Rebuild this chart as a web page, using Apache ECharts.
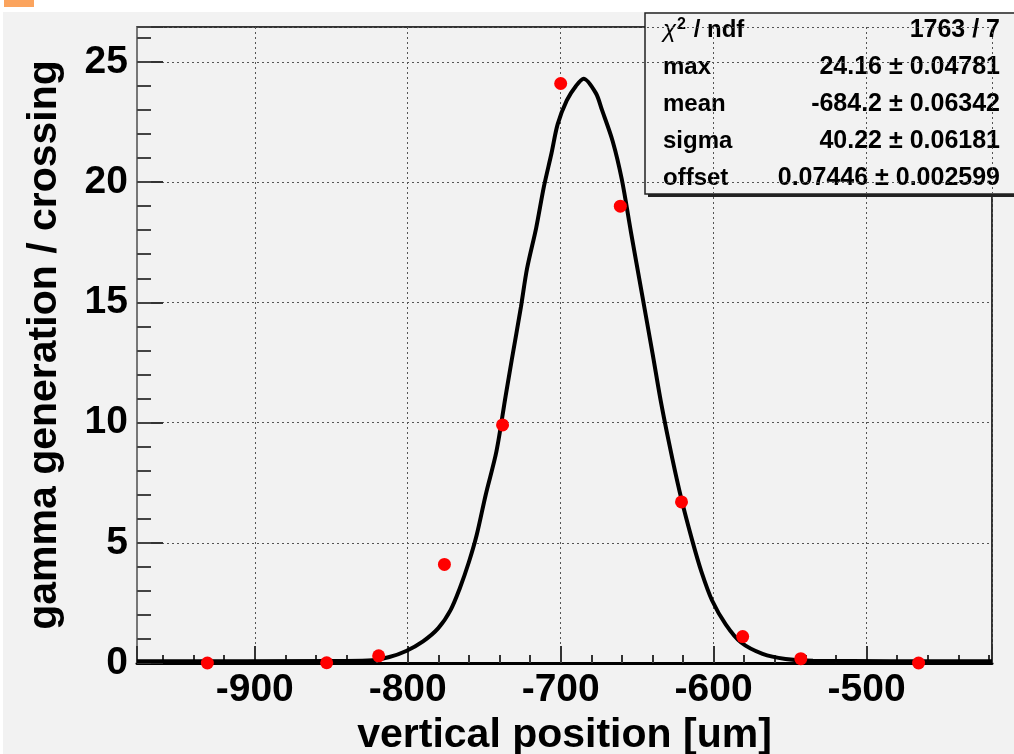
<!DOCTYPE html>
<html lang="en">
<head>
    <meta charset="UTF-8">
    <title>gamma generation / crossing</title>
    <script src="https://cdn.jsdelivr.net/npm/echarts@6/dist/echarts.min.js"></script>
    <style>
        html, body { margin: 0; padding: 0; background: #fff; }
        #chart { width: 1014px; height: 754px; }
    </style>
</head>
<body>
<div id="chart"></div>

<script>
    // measured bins (red points)
    var posX = [-931, -853, -819, -776, -738, -700, -661, -621, -581, -543, -466];
    var genY = [0.0, 0.01, 0.3, 4.1, 9.9, 24.1, 19.0, 6.7, 1.1, 0.18, 0.0];

    // gaussian fit
    var fitX = [-977, -850, -826, -812, -801, -790, -780, -772, -766, -760, -755, -749, -742,
        -736, -732, -726, -722, -716, -711, -706, -702, -696, -690, -685, -677, -673, -666,
        -660, -654, -647, -640, -634, -627, -621, -614, -608, -601, -592, -582, -568, -553, -535, -418];
    var fitY = [0.07, 0.08, 0.1, 0.25, 0.5, 0.9, 1.45, 2.2, 3.1, 4.2, 5.3, 7.0, 8.8,
        11.1, 12.6, 14.8, 16.4, 18.1, 19.8, 21.2, 22.4, 23.4, 24.0, 24.3, 23.7, 23.0, 21.7,
        20.1, 17.9, 15.4, 12.9, 10.7, 8.5, 6.8, 5.1, 3.8, 2.6, 1.6, 0.85, 0.38, 0.17, 0.09, 0.07];

    // fit statistics box
    var statNames = ['{chi|χ}{sup|2}{txt| / ndf}', 'max', 'mean', 'sigma', 'offset'];
    var statValues = ['1763 / 7', '24.16 ± 0.04781', '-684.2 ± 0.06342', '40.22 ± 0.06181', '0.07446 ± 0.002599'];

    var FONT = '"Liberation Sans", Arial, Helvetica, sans-serif';

    var points = posX.map(function (x, i) { return [x, genY[i]]; });
    var curve = fitX.map(function (x, i) { return [x, fitY[i]]; });

    var statBox = [
        {type: 'rect', shape: {x: 648, y: 16, width: 380, height: 181}, style: {fill: '#222'}},
        {type: 'rect', shape: {x: 645, y: 13, width: 380, height: 181},
            style: {fill: '#f2f2f2', stroke: '#222', lineWidth: 1.5}}
    ];
    statNames.forEach(function (name, i) {
        var y = 30 + i * 37;
        statBox.push({type: 'text', style: {text: name, x: 663, y: y, fill: '#000',
                font: 'bold 24px ' + FONT, verticalAlign: 'middle',
                rich: {
                    chi: {fontSize: 24, fontFamily: FONT, fontWeight: 'normal', fontStyle: 'italic', fill: '#000'},
                    sup: {fontSize: 16, fontFamily: FONT, fontWeight: 'bold', verticalAlign: 'top', fill: '#000', padding: [0, 1, 10, 1]},
                    txt: {fontSize: 24, fontFamily: FONT, fontWeight: 'bold', fill: '#000'}
                }}});
        statBox.push({type: 'text', style: {text: statValues[i], x: 1000, y: y, fill: '#000',
                font: 'bold 25px ' + FONT, align: 'right', verticalAlign: 'middle'}});
    });

    var myChart = echarts.init(document.getElementById('chart'));
    var option = {
        backgroundColor: '#f2f2f2',
        animation: false,
        textStyle: {fontFamily: FONT},
        grid: {
            left: 137, top: 27, right: 22, bottom: 91,
            containLabel: false, outerBoundsMode: 'none',
            show: true, borderColor: '#333', borderWidth: 2
        },
        xAxis: [
            {
                type: 'value', min: -977, max: -418,
                minInterval: 100, maxInterval: 100,
                name: 'vertical position [um]',
                nameLocation: 'middle', nameGap: 31,
                nameTextStyle: {fontSize: 41, fontWeight: 'bold', color: '#000'},
                axisLine: {show: true, onZero: false, lineStyle: {color: '#000', width: 3}},
                axisTick: {show: true, inside: true, length: 17, lineStyle: {color: '#333', width: 2}},
                axisLabel: {
                    fontSize: 39, fontWeight: 'bold', color: '#000', margin: 8,
                    formatter: function (v) { return v % 100 === 0 ? String(v) : ''; }
                },
                splitLine: {show: true, lineStyle: {color: '#555', type: [2, 3], width: 1}}
            },
            {
                type: 'value', min: -977, max: -418,
                minInterval: 20, maxInterval: 20,
                axisLine: {show: false},
                axisTick: {show: true, inside: true, length: 8, lineStyle: {color: '#333', width: 2}},
                axisLabel: {show: false},
                splitLine: {show: false},
                position: 'bottom'
            }
        ],
        yAxis: [
            {
                type: 'value', min: 0, max: 26.45, interval: 5,
                position: 'left',
                name: 'gamma generation / crossing',
                nameLocation: 'middle', nameGap: 72,
                nameTextStyle: {fontSize: 41, fontWeight: 'bold', color: '#000'},
                axisLine: {show: true, lineStyle: {color: '#777', width: 2}},
                axisTick: {show: true, inside: true, length: 26, lineStyle: {color: '#333', width: 2}},
                axisLabel: {
                    fontSize: 39, fontWeight: 'bold', color: '#000', margin: 9,
                    formatter: function (v) { return v % 5 === 0 ? String(v) : ''; }
                },
                splitLine: {show: true, lineStyle: {color: '#555', type: [2, 3], width: 1}}
            },
            {
                type: 'value', min: 0, max: 26.45, interval: 1,
                position: 'left',
                axisLine: {show: false},
                axisTick: {show: true, inside: true, length: 14, lineStyle: {color: '#444', width: 2}},
                axisLabel: {show: false},
                splitLine: {show: false}
            }
        ],
        graphic: [
            {type: 'rect', shape: {x: 0, y: 0, width: 1014, height: 12}, style: {fill: '#fff'}, z: 100},
            {type: 'rect', shape: {x: 0, y: 0, width: 3, height: 754}, style: {fill: '#fff'}, z: 100},
            {type: 'rect', shape: {x: 4, y: 0, width: 30, height: 7}, style: {fill: '#fba45e'}, z: 101},
            {type: 'group', z: 100, children: statBox}
        ],
        series: [
            {
                name: 'fit', type: 'line', data: curve,
                xAxisIndex: 0, yAxisIndex: 0,
                showSymbol: false, symbol: 'none', smooth: 0.3,
                lineStyle: {color: '#000', width: 4}, z: 3
            },
            {
                name: 'data', type: 'scatter', data: points,
                xAxisIndex: 0, yAxisIndex: 0,
                symbol: 'circle', symbolSize: 13,
                itemStyle: {color: '#ff0000', opacity: 1}, z: 4
            }
        ]
    };
    myChart.setOption(option);
</script>

</body>
</html>
